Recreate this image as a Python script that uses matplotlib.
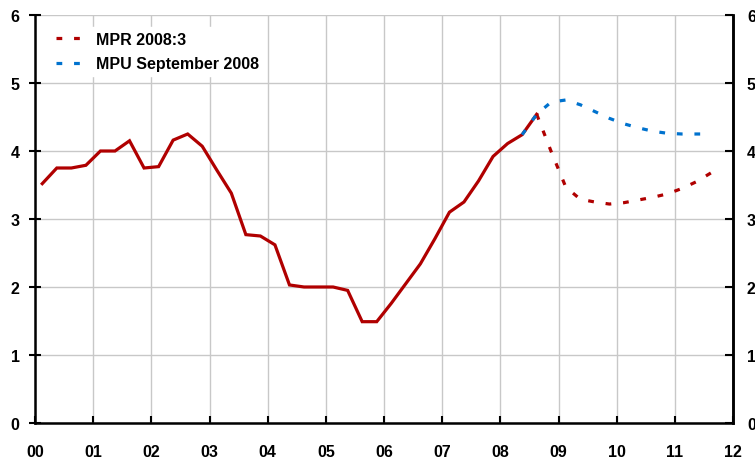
import matplotlib
matplotlib.use("Agg")
import matplotlib.pyplot as plt
from matplotlib.lines import Line2D

plt.rcParams['font.family'] = ['Liberation Sans', 'DejaVu Sans']

year_labels = ['00', '01', '02', '03', '04', '05', '06', '07', '08', '09', '10', '11', '12']

# Quarterly outcome 2000Q1 - 2008Q3
hist_values = [3.52, 3.75, 3.75, 3.79,
               4.00, 4.00, 4.15, 3.75,
               3.77, 4.16, 4.25, 4.07,
               3.72, 3.38, 2.77, 2.75,
               2.62, 2.03, 2.00, 2.00,
               2.00, 1.95, 1.49, 1.49,
               1.76, 2.05, 2.34, 2.71,
               3.10, 3.25, 3.56, 3.92,
               4.11, 4.24, 4.54]
hist_start = 0  # quarter index of 2000Q1

# MPR 2008:3 forecast, 2008Q3 - 2011Q3
mpr_values = [4.54, 3.99, 3.47, 3.29, 3.25, 3.22, 3.24, 3.28, 3.32, 3.37, 3.45, 3.55, 3.68]
mpr_start = 34

# MPU September 2008 forecast, 2008Q2 - 2011Q3
mpu_values = [4.24, 4.54, 4.72, 4.75, 4.68, 4.58, 4.48, 4.40, 4.34, 4.29, 4.26, 4.25, 4.25, 4.25]
mpu_start = 33

legend_labels = ['MPR 2008:3', 'MPU September 2008']

RED = '#B00000'
BLUE = '#0072CE'

def qx(start, n):
    return [(start + i + 0.5) / 4.0 for i in range(n)]

fig = plt.figure(figsize=(7.55, 4.64), dpi=100)
ax = fig.add_axes([35/755, 40/464, 698/755, 408/464])

ax.set_xlim(0, 12)
ax.set_ylim(0, 6)

ax.grid(True, color='#c8c8c8', linewidth=1.0)
ax.set_axisbelow(True)

lw = 2.3
ax.plot(qx(hist_start, len(hist_values)), hist_values, color=RED, lw=lw,
        solid_joinstyle='miter', zorder=3)
ax.plot(qx(mpr_start, len(mpr_values)), mpr_values, color=RED, lw=lw,
        dashes=(1.8, 3.7), zorder=3)
ax.plot(qx(mpu_start, len(mpu_values)), mpu_values, color=BLUE, lw=lw,
        dashes=(1.8, 3.7), zorder=4)

ax.set_xticks(range(13))
ax.set_xticklabels(year_labels, fontsize=11.5, fontweight='bold')
ax.set_yticks(range(7))
ax.set_yticklabels([str(v) for v in range(7)], fontsize=11.5, fontweight='bold')

ax.spines['top'].set_visible(False)
for s in ['left', 'bottom', 'right']:
    ax.spines[s].set_linewidth(1.8)
    ax.spines[s].set_color('black')

ax.tick_params(axis='x', direction='in', length=5, width=1.5, pad=15, color='black')
ax.tick_params(axis='y', direction='inout', length=9, width=1.5, pad=6.5, color='black')

ax2 = ax.twinx()
ax2.set_ylim(0, 6)
ax2.set_yticks(range(7))
ax2.set_yticklabels([str(v) for v in range(7)], fontsize=11.5, fontweight='bold')
ax2.tick_params(axis='y', direction='in', length=6, width=1.5, pad=10)
for s in ['top', 'left', 'bottom']:
    ax2.spines[s].set_visible(False)
ax2.spines['right'].set_linewidth(1.8)

handles = [Line2D([0], [0], color=RED, lw=lw, dashes=(1.8, 3.7)),
           Line2D([0], [0], color=BLUE, lw=lw, dashes=(1.8, 3.7))]
leg = ax2.legend(handles, legend_labels, loc='upper left',
                 bbox_to_anchor=(0.012, 0.99), frameon=True, fancybox=False,
                 edgecolor='white', facecolor='white', framealpha=1,
                 prop={'weight': 'bold', 'size': 11.5}, handlelength=1.55,
                 handletextpad=0.95, labelspacing=0.6, borderpad=0.3)

fig.savefig('out.png', dpi=100)
